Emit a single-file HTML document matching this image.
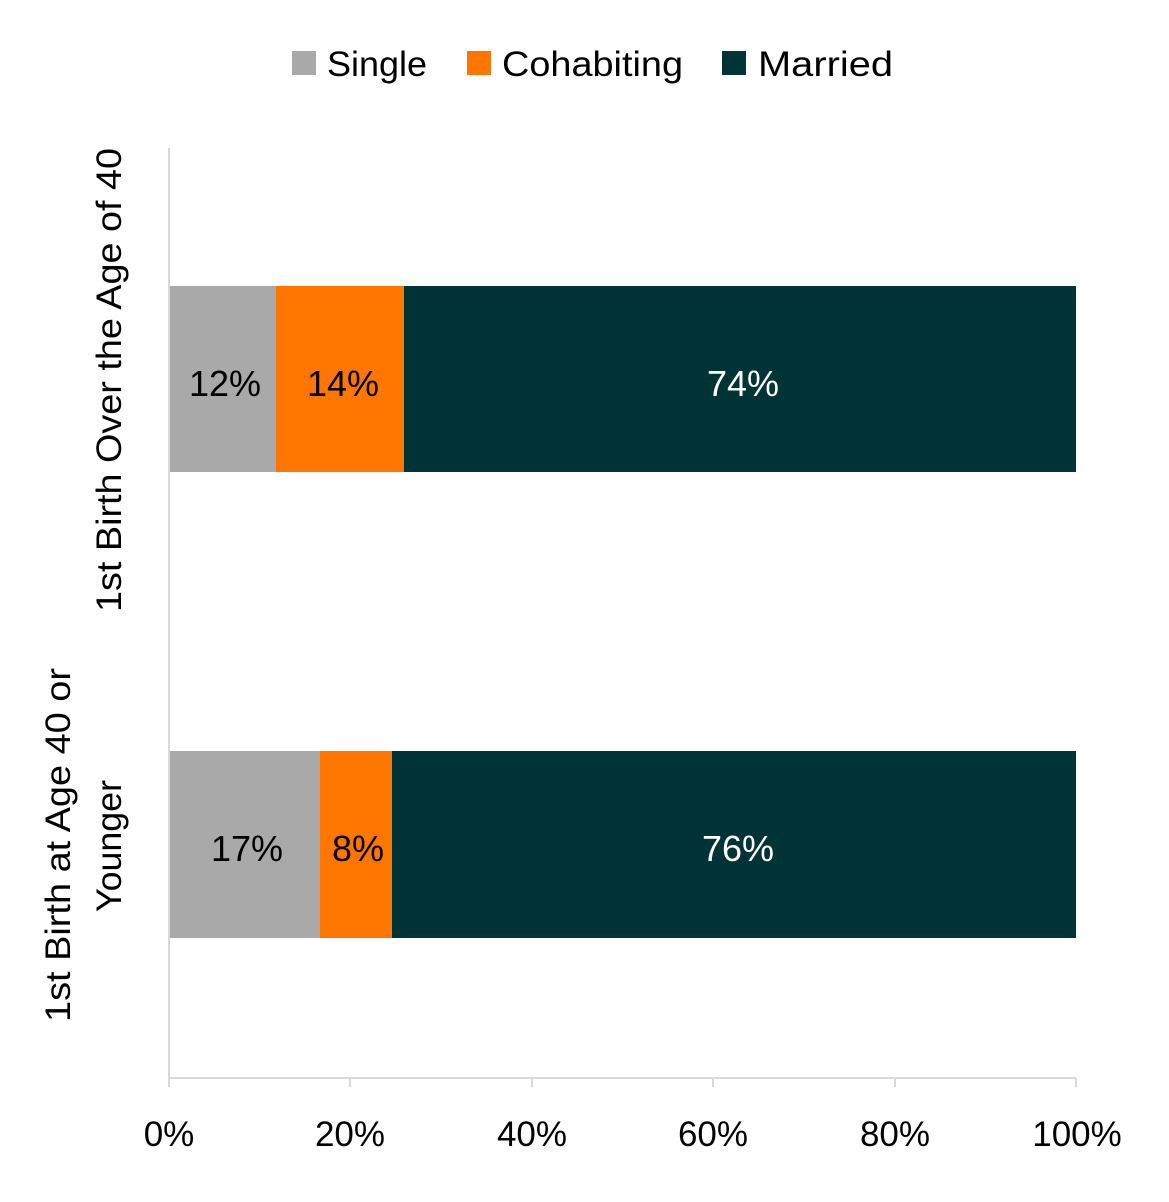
<!DOCTYPE html>
<html><head><style>
body{margin:0;background:#fff}
text{font-family:"Liberation Sans",sans-serif}
</style></head><body>
<svg width="1169" height="1197" xmlns="http://www.w3.org/2000/svg">
<rect width="1169" height="1197" fill="#fff"/>
<!-- legend -->
<rect x="292" y="51" width="24" height="24" fill="#a9a9a9"/>
<text x="327" y="76" font-size="35" fill="#000" textLength="100" lengthAdjust="spacingAndGlyphs">Single</text>
<rect x="467" y="51" width="24" height="24" fill="#ff7700"/>
<text x="502" y="76" font-size="35" fill="#000" textLength="181" lengthAdjust="spacingAndGlyphs">Cohabiting</text>
<rect x="722" y="51" width="24" height="24" fill="#003335"/>
<text x="758" y="76" font-size="35" fill="#000" textLength="135" lengthAdjust="spacingAndGlyphs">Married</text>
<!-- bars -->
<rect x="169" y="286" width="107" height="186" fill="#a9a9a9"/>
<rect x="276" y="286" width="128" height="186" fill="#ff7700"/>
<rect x="404" y="286" width="672" height="186" fill="#003335"/>
<rect x="169" y="751" width="151" height="187" fill="#a9a9a9"/>
<rect x="320" y="751" width="72" height="187" fill="#ff7700"/>
<rect x="392" y="751" width="684" height="187" fill="#003335"/>
<g font-size="36" text-anchor="middle">
<text x="225" y="396" fill="#000">12%</text>
<text x="343" y="396" fill="#000">14%</text>
<text x="743" y="396" fill="#fff">74%</text>
<text x="247" y="861" fill="#000">17%</text>
<text x="358" y="861" fill="#000">8%</text>
<text x="738" y="861" fill="#fff">76%</text>
</g>
<!-- axes -->
<line x1="169" y1="148" x2="169" y2="1078" stroke="#d9d9d9" stroke-width="2"/>
<line x1="169" y1="1078" x2="1076" y2="1078" stroke="#d9d9d9" stroke-width="2"/>
<g stroke="#d9d9d9" stroke-width="2">
<line x1="169" y1="1078" x2="169" y2="1087"/>
<line x1="350" y1="1078" x2="350" y2="1087"/>
<line x1="532" y1="1078" x2="532" y2="1087"/>
<line x1="713" y1="1078" x2="713" y2="1087"/>
<line x1="895" y1="1078" x2="895" y2="1087"/>
<line x1="1076" y1="1078" x2="1076" y2="1087"/>
</g>
<g font-size="35" text-anchor="middle" fill="#000">
<text x="169" y="1146">0%</text>
<text x="350" y="1146">20%</text>
<text x="532" y="1146">40%</text>
<text x="713" y="1146">60%</text>
<text x="895" y="1146">80%</text>
<text x="1077" y="1146">100%</text>
</g>
<g font-size="35" text-anchor="middle" fill="#000">
<text transform="translate(121,380) rotate(-90)" textLength="464" lengthAdjust="spacingAndGlyphs">1st Birth Over the Age of 40</text>
<text transform="translate(70,845) rotate(-90)" textLength="354" lengthAdjust="spacingAndGlyphs">1st Birth at Age 40 or</text>
<text transform="translate(121,846) rotate(-90)" textLength="132" lengthAdjust="spacingAndGlyphs">Younger</text>
</g>
</svg>
</body></html>
